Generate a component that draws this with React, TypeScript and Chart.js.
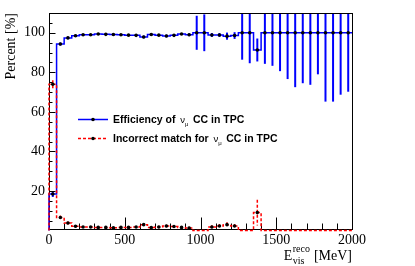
import React, { useEffect, useRef } from "react";
import { Chart, registerables } from "chart.js";

Chart.register(...registerables);

// ---- data ----
const binCenters = [
  25, 75, 125, 175, 225, 275, 325, 375, 425, 475,
  525, 575, 625, 675, 725, 775, 825, 875, 925, 975,
  1025, 1075, 1125, 1175, 1225, 1275, 1325, 1375, 1425, 1475,
  1525, 1575, 1625, 1675, 1725, 1775, 1825, 1875, 1925, 1975,
];
const binWidth = 50;

const efficiency = [
  18.5, 94.3, 97.4, 98.5, 99.0, 99.0, 99.4, 99.2, 99.1, 99.0,
  98.8, 98.7, 97.9, 99.1, 98.8, 98.4, 98.7, 99.4, 99.0, 100,
  100, 98.9, 98.9, 98.3, 98.6, 100, 100, 91.3, 100, 100,
  100, 100, 100, 100, 100, 100, 100, 100, 100, 100,
];
const efficiencyErr = [
  1.5, 0.8, 0.6, 0.5, 0.4, 0.4, 0.3, 0.3, 0.3, 0.4,
  0.4, 0.5, 0.7, 0.4, 0.5, 0.7, 0.6, 0.5, 0.7, 8.6,
  9.3, 1.0, 1.0, 1.8, 1.7, 13.6, 15.4, 5.8, 15.7, 16.7,
  19.4, 23.4, 27.5, 25.5, 26.3, 21.0, 34.8, 34.8, 31.3, 29.8,
];
const incorrect = [
  74.0, 6.6, 3.8, 2.2, 1.8, 1.8, 1.6, 1.6, 1.4, 1.6,
  1.6, 1.8, 3.0, 1.5, 1.8, 2.3, 2.1, 1.6, 1.3, 0,
  0, 1.8, 2.3, 3.0, 2.3, 0, 0, 9.1, 0, 0,
  0, 0, 0, 0, 0, 0, 0, 0, 0, 0,
];
const incorrectErr = [
  2.0, 1.0, 0.8, 0.6, 0.5, 0.5, 0.5, 0.5, 0.5, 0.5,
  0.5, 0.5, 0.7, 0.5, 0.6, 0.7, 0.7, 0.6, 0.6, 0,
  0, 0.9, 1.0, 1.2, 1.0, 0, 0, 6.5, 0, 0,
  0, 0, 0, 0, 0, 0, 0, 0, 0, 0,
];

const xTickValues = [0, 500, 1000, 1500, 2000];
const yTickValues = [20, 40, 60, 80, 100];
const X_MIN = 0;
const X_MAX = 2000;
const Y_MIN = 0.8;
const Y_MAX = 110;
const X_MINOR = 100;
const Y_MINOR = 5;

const yTitle = "Percent [%]";
const legendRows = [
  { pre: "Efficiency of ", post: " CC in TPC", color: "#0000ff", dash: [] as number[] },
  { pre: "Incorrect match for ", post: " CC in TPC", color: "#ff0000", dash: [3, 2] },
];

const BLUE = "#0000ff";
const RED = "#ff0000";

// histogram outline: points at lower bin edges (+ final upper edge), drawn with stepped lines
function stepData(values: number[]) {
  const pts: { x: number; y: number }[] = [{ x: binCenters[0] - binWidth / 2, y: 0 }];
  values.forEach((v, i) => pts.push({ x: binCenters[i] - binWidth / 2, y: v }));
  const last = values.length - 1;
  pts.push({ x: binCenters[last] + binWidth / 2, y: values[last] });
  return pts;
}

function markerData(values: number[]) {
  return values.map((v, i) => ({ x: binCenters[i], y: v > 0 ? v : null }));
}

const framePlugin = {
  id: "rootFrame",
  beforeDatasetsDraw(chart: any) {
    const { ctx, chartArea: a, scales } = chart;
    const x = scales.x;
    const y = scales.y;
    ctx.save();
    // error bars
    ctx.beginPath();
    ctx.rect(a.left, a.top, a.right - a.left, a.bottom - a.top + 2);
    ctx.clip();
    const drawErr = (vals: number[], errs: number[], color: string, dash: number[], w: number) => {
      ctx.strokeStyle = color;
      ctx.lineWidth = w;
      ctx.setLineDash(dash);
      vals.forEach((v, i) => {
        if (v <= 0 || errs[i] <= 0) return;
        const px = x.getPixelForValue(binCenters[i]);
        ctx.beginPath();
        ctx.moveTo(px, y.getPixelForValue(v + errs[i]));
        ctx.lineTo(px, y.getPixelForValue(v - errs[i]));
        ctx.stroke();
      });
    };
    drawErr(efficiency, efficiencyErr, BLUE, [], 2);
    drawErr(incorrect, incorrectErr, RED, [3, 2], 1.5);
    ctx.restore();

    // frame and ticks
    ctx.save();
    ctx.strokeStyle = "#000";
    ctx.lineWidth = 1;
    ctx.setLineDash([]);
    const L = Math.floor(a.left) + 0.5;
    const R = Math.floor(a.right) + 0.5;
    const T = Math.floor(a.top) + 0.5;
    const B = Math.floor(a.bottom) + 0.5;
    ctx.strokeRect(L, T, R - L, B - T);
    ctx.beginPath();
    for (let v = X_MIN; v <= X_MAX; v += X_MINOR) {
      const px = Math.round(x.getPixelForValue(v)) + 0.5;
      const major = xTickValues.includes(v);
      ctx.moveTo(px, B);
      ctx.lineTo(px, B - (major ? 12 : 6));
    }
    for (let v = Y_MINOR; v <= Y_MAX; v += Y_MINOR) {
      const py = Math.round(y.getPixelForValue(v)) + 0.5;
      const major = yTickValues.includes(v);
      ctx.moveTo(L, py);
      ctx.lineTo(L + (major ? 6 : 3), py);
    }
    ctx.stroke();
    ctx.restore();
  },
  afterDraw(chart: any) {
    const { ctx, chartArea: a } = chart;
    ctx.save();
    // legend
    const bold = 'bold 10.5px "Liberation Sans", Arial, sans-serif';
    legendRows.forEach((row, i) => {
      const cy = 119.5 + i * 19;
      ctx.strokeStyle = row.color;
      ctx.lineWidth = 1.5;
      ctx.setLineDash(row.dash);
      ctx.beginPath();
      ctx.moveTo(78, cy);
      ctx.lineTo(108, cy);
      ctx.stroke();
      ctx.setLineDash([]);
      ctx.fillStyle = "#000";
      ctx.beginPath();
      ctx.arc(93, cy, 1.8, 0, Math.PI * 2);
      ctx.fill();
      const base = cy + 3.5;
      let tx = 113;
      ctx.textBaseline = "alphabetic";
      ctx.textAlign = "left";
      ctx.font = bold;
      ctx.fillText(row.pre, tx, base);
      tx += ctx.measureText(row.pre).width + 2;
      ctx.font = '9.5px "Liberation Sans", Arial, sans-serif';
      ctx.fillText("ν", tx, base);
      tx += ctx.measureText("ν").width;
      ctx.font = '6px "Liberation Sans", Arial, sans-serif';
      ctx.fillText("μ", tx, base + 2.5);
      tx += ctx.measureText("μ").width + 1.5;
      ctx.font = bold;
      ctx.fillText(row.post, tx, base);
    });

    // x-axis title: E_vis^reco [MeV], right aligned at frame right
    const big = '14px "Liberation Serif", "Times New Roman", serif';
    const small = '10px "Liberation Serif", "Times New Roman", serif';
    ctx.fillStyle = "#000";
    ctx.font = big;
    const wE = ctx.measureText("E").width;
    const wUnit = ctx.measureText(" [MeV]").width;
    ctx.font = small;
    const wSup = Math.max(ctx.measureText("reco").width, ctx.measureText("vis").width);
    const baseY = 260;
    let sx = a.right - (wE + wSup + wUnit + 1);
    ctx.font = big;
    ctx.fillText("E", sx, baseY);
    sx += wE + 0.5;
    ctx.font = small;
    ctx.fillText("reco", sx, baseY - 8.5);
    ctx.fillText("vis", sx, baseY + 4);
    sx += wSup + 0.5;
    ctx.font = big;
    ctx.fillText(" [MeV]", sx, baseY);
    ctx.restore();
  },
};

export default function App() {
  const canvasRef = useRef<HTMLCanvasElement | null>(null);

  useEffect(() => {
    if (!canvasRef.current) return;
    const serif = "'Liberation Serif', 'Times New Roman', serif";
    const chart = new Chart(canvasRef.current, {
      type: "line",
      data: {
        datasets: [
          {
            label: "incorrect markers",
            data: markerData(incorrect),
            showLine: false,
            pointRadius: 1.8,
            pointBackgroundColor: "#000",
            pointBorderColor: "#000",
            pointBorderWidth: 0,
          },
          {
            label: "efficiency markers",
            data: markerData(efficiency),
            showLine: false,
            pointRadius: 1.8,
            pointBackgroundColor: "#000",
            pointBorderColor: "#000",
            pointBorderWidth: 0,
          },
          {
            label: "Incorrect match",
            data: stepData(incorrect),
            stepped: "before",
            borderColor: RED,
            borderWidth: 1.5,
            borderDash: [3, 2],
            pointRadius: 0,
            fill: false,
            clip: { left: 2, top: 0, right: 0, bottom: 4 },
          },
          {
            label: "Efficiency",
            data: stepData(efficiency),
            stepped: "before",
            borderColor: BLUE,
            borderWidth: 1.5,
            pointRadius: 0,
            fill: false,
            clip: { left: 2, top: 0, right: 0, bottom: 4 },
          },
        ],
      } as any,
      options: {
        animation: false,
        responsive: false,
        events: [],
        layout: { padding: { top: 13, right: 63, bottom: 0, left: 0 } },
        plugins: { legend: { display: false }, tooltip: { enabled: false } },
        scales: {
          x: {
            type: "linear",
            min: X_MIN,
            max: X_MAX,
            grid: { display: false, drawTicks: false },
            border: { display: false },
            afterBuildTicks: (s: any) => {
              s.ticks = xTickValues.map((v) => ({ value: v }));
            },
            afterFit: (s: any) => {
              s.height = 37;
            },
            ticks: {
              color: "#000",
              padding: 3,
              maxRotation: 0,
              font: { family: serif, size: 14 },
              callback: (v: any) => String(v),
            },
          },
          y: {
            type: "linear",
            min: Y_MIN,
            max: Y_MAX,
            grid: { display: false, drawTicks: false },
            border: { display: false },
            afterBuildTicks: (s: any) => {
              s.ticks = yTickValues.map((v) => ({ value: v }));
            },
            afterFit: (s: any) => {
              s.width = 49;
            },
            ticks: {
              color: "#000",
              padding: 4,
              font: { family: serif, size: 14 },
              callback: (v: any) => String(v),
            },
            title: {
              display: true,
              text: yTitle,
              align: "end",
              color: "#000",
              font: { family: serif, size: 14 },
              padding: { top: 3, bottom: 0 },
            },
          },
        },
      } as any,
      plugins: [framePlugin],
    });
    return () => chart.destroy();
  }, []);

  return (
    <div style={{ position: "absolute", left: 0, top: 0, width: 415, height: 266, background: "#fff" }}>
      <canvas ref={canvasRef} width={415} height={266} style={{ display: "block" }} />
    </div>
  );
}
